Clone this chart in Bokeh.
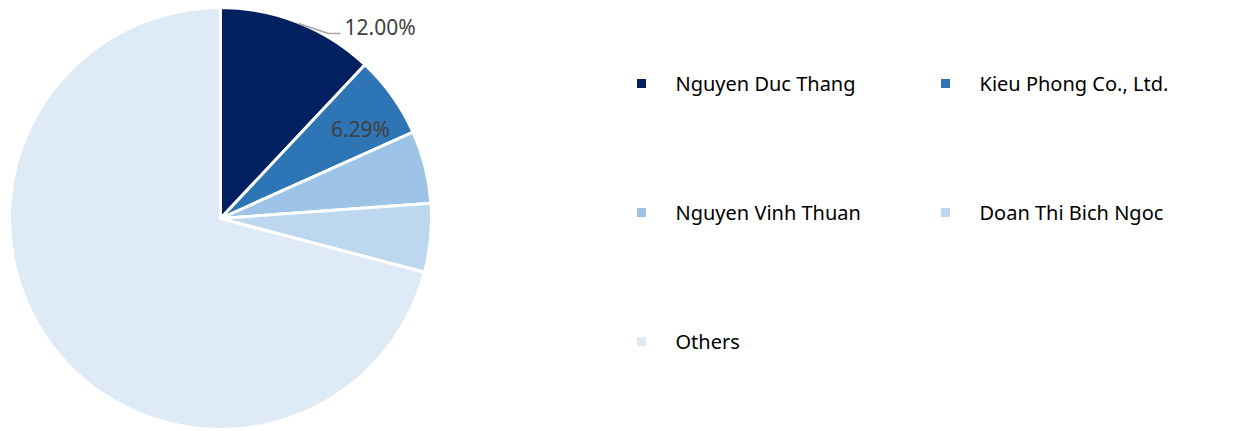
import math
from bokeh.plotting import figure
from bokeh.models import Range1d, ColumnDataSource
from bokeh.core.properties import value
from bokeh.embed import file_html
from bokeh.resources import INLINE

# ---- data ----
holders = ["Nguyen Duc Thang", "Kieu Phong Co., Ltd.", "Nguyen Vinh Thuan",
           "Doan Thi Bich Ngoc", "Others"]
shares = [12.00, 6.29, 5.55, 5.26, 70.90]
colors = ["#002060", "#2E75B6", "#9DC3E6", "#BDD7EE", "#DEEAF6"]
shown_labels = ["12.00%", "6.29%", "", "", ""]

W, H = 1235, 431
PAGE_H = 431

def py(page_y):
    return PAGE_H - page_y

p = figure(width=W, height=H, output_backend="svg", toolbar_location=None,
           x_range=Range1d(0, W), y_range=Range1d(PAGE_H - H, PAGE_H),
           min_border=0)
p.axis.visible = False
p.grid.visible = False
p.outline_line_color = None
p.background_fill_color = "white"

cx, cy, r = 220, py(218), 211
total = sum(shares)
starts, ends = [], []
cum = 0.0
for s in shares:
    starts.append(math.pi / 2 - 2 * math.pi * cum / total)
    cum += s
    ends.append(math.pi / 2 - 2 * math.pi * cum / total)

src = ColumnDataSource(dict(start=starts, end=ends, color=colors))
p.wedge(x=cx, y=cy, radius=r, start_angle="start", end_angle="end",
        direction="clock", fill_color="color", line_color="white",
        line_width=3, source=src)

label_font = value("Noto Sans")
# 12.00% outside with leader line
p.line(x=[298, 328, 340], y=[py(23), py(33), py(33)], line_color="#A6A6A6", line_width=1.5)
p.text(x=[344], y=[py(26)], text=[shown_labels[0]], text_font=label_font,
       text_font_size="21px", text_color="#404040", text_baseline="middle",
       text_align="left")
# 6.29% inside
p.text(x=[360], y=[py(128)], text=[shown_labels[1]], text_font=label_font,
       text_font_size="21px", text_color="#404040", text_baseline="middle",
       text_align="center")

# legend
leg_x = [641, 945, 641, 945, 641]
leg_y = [83, 83, 212, 212, 341]
p.rect(x=leg_x, y=[py(v) for v in leg_y], width=9, height=9,
       fill_color=colors, line_color=None)
p.text(x=[v + 34 for v in leg_x], y=[py(v) for v in leg_y], text=holders,
       text_font=value("Noto Sans"), text_font_size="20px", text_color="#000000",
       text_baseline="middle", text_align="left")

open("out.html", "w").write(file_html(p, INLINE))
